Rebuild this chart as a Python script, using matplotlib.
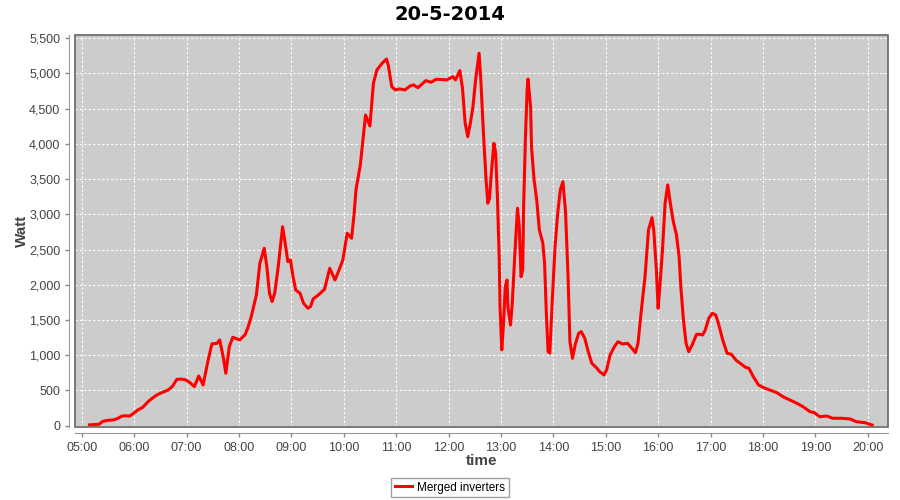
import matplotlib
matplotlib.use("Agg")
import matplotlib.pyplot as plt
from matplotlib.patches import Rectangle

# readings of the merged inverters on 20-5-2014 (HH:MM, watt)
times = [
    "05:09", "05:15", "05:20", "05:24", "05:30", "05:36", "05:41", "05:46", "05:50", "05:55",
    "06:00", "06:04", "06:10", "06:16", "06:21", "06:26", "06:32", "06:39", "06:44", "06:49",
    "06:54", "06:59", "07:04", "07:09", "07:14", "07:19", "07:24", "07:29", "07:35", "07:38",
    "07:42", "07:45", "07:49", "07:53", "08:01", "08:07", "08:10", "08:14", "08:20", "08:24",
    "08:29", "08:32", "08:35", "08:38", "08:41", "08:45", "08:50", "08:53", "08:56", "08:59",
    "09:02", "09:05", "09:10", "09:14", "09:19", "09:22", "09:25", "09:31", "09:38", "09:44",
    "09:50", "09:55", "09:59", "10:04", "10:09", "10:12", "10:14", "10:19", "10:22", "10:25",
    "10:30", "10:34", "10:38", "10:44", "10:49", "10:51", "10:55", "10:59", "11:04", "11:10",
    "11:16", "11:20", "11:25", "11:34", "11:40", "11:46", "11:58", "12:05", "12:08", "12:13",
    "12:16", "12:19", "12:22", "12:25", "12:28", "12:31", "12:35", "12:37", "12:40", "12:43",
    "12:45", "12:47", "12:49", "12:52", "12:54", "12:56", "12:58", "12:59", "13:01", "13:03",
    "13:05", "13:07", "13:08", "13:11", "13:13", "13:16", "13:19", "13:21", "13:23", "13:25",
    "13:26", "13:28", "13:30", "13:31", "13:34", "13:35", "13:38", "13:41", "13:44", "13:48",
    "13:50", "13:52", "13:54", "13:56", "13:59", "14:02", "14:05", "14:08", "14:11", "14:14",
    "14:17", "14:19", "14:22", "14:25", "14:29", "14:32", "14:36", "14:40", "14:44", "14:50",
    "14:53", "14:58", "15:01", "15:05", "15:10", "15:14", "15:19", "15:25", "15:30", "15:34",
    "15:37", "15:40", "15:45", "15:49", "15:53", "15:55", "15:58", "16:00", "16:02", "16:05",
    "16:08", "16:11", "16:14", "16:17", "16:21", "16:24", "16:26", "16:29", "16:32", "16:35",
    "16:39", "16:44", "16:47", "16:51", "16:54", "16:58", "17:02", "17:06", "17:09", "17:14",
    "17:19", "17:24", "17:29", "17:34", "17:40", "17:44", "17:49", "17:55", "18:01", "18:08",
    "18:16", "18:23", "18:31", "18:39", "18:46", "18:54", "18:59", "19:05", "19:13", "19:20",
    "19:30", "19:40", "19:47", "19:57", "20:05",
]
watts = [
    10, 15, 20, 60, 75, 80, 100, 135, 140, 135,
    180, 220, 260, 340, 390, 435, 470, 505, 560, 657,
    660, 650, 610, 553, 705, 577, 885, 1159, 1169, 1216,
    978, 743, 1121, 1254, 1216, 1290, 1380, 1540, 1855, 2305,
    2518, 2256, 1879, 1760, 1879, 2256, 2824, 2589, 2328, 2352,
    2115, 1925, 1879, 1737, 1666, 1690, 1798, 1855, 1935, 2234,
    2068, 2220, 2352, 2730, 2660, 3015, 3345, 3700, 4055, 4410,
    4254, 4860, 5050, 5144, 5205, 5120, 4812, 4766, 4780, 4766,
    4822, 4837, 4798, 4898, 4875, 4918, 4908, 4954, 4908, 5040,
    4790, 4300, 4102, 4292, 4528, 4908, 5287, 4908, 4150, 3488,
    3157, 3228, 3583, 4009, 3867, 3250, 2398, 1688, 1074, 1453,
    1972, 2068, 1688, 1428, 1737, 2447, 3086, 2824, 2115, 2210,
    3108, 4055, 4766, 4920, 4528, 3960, 3488, 3204, 2778, 2589,
    2305, 1595, 1050, 1030, 1830, 2540, 3015, 3345, 3463, 3037,
    2068, 1191, 955, 1145, 1311, 1334, 1240, 1050, 885, 814,
    766, 719, 790, 1003, 1121, 1191, 1159, 1169, 1098, 1035,
    1169, 1546, 2115, 2778, 2952, 2778, 2210, 1666, 1972, 2494,
    3157, 3417, 3157, 2920, 2707, 2398, 1972, 1500, 1169, 1050,
    1145, 1296, 1296, 1287, 1358, 1523, 1595, 1570, 1453, 1216,
    1027, 1012, 931, 885, 828, 814, 694, 577, 538, 505,
    467, 410, 363, 316, 268, 197, 183, 126, 136, 104,
    104, 94, 55, 41, 8,
]
hour_ticks = list(range(5, 21))
watt_ticks = list(range(0, 5501, 500))

hours = [int(t[:2]) + int(t[3:]) / 60 for t in times]

plt.rcParams['font.family'] = ['Liberation Sans', 'DejaVu Sans']

fig = plt.figure(figsize=(9, 5), dpi=100)
ax = fig.add_axes([75 / 900, 73 / 500, 813 / 900, 392 / 500])
ax.set_facecolor('#cccccc')

ax.plot(hours, watts, color='red', lw=2.2, solid_joinstyle='round', label='Merged inverters')

ax.set_xlim(4.872, 20.387)
ax.set_ylim(-20, 5546)
ax.set_xticks(hour_ticks)
ax.set_xticklabels([f'{h:02d}:00' for h in hour_ticks])
ax.set_yticks(watt_ticks)
ax.set_yticklabels([f'{w:,}' for w in watt_ticks])
ax.grid(True, color='white', linestyle=(0, (2, 2)), linewidth=0.8)

for side in ['top', 'right']:
    ax.spines[side].set_visible(False)
for side in ['left', 'bottom']:
    ax.spines[side].set_position(('outward', 4))
    ax.spines[side].set_color('#999999')
ax.tick_params(colors='#888888', labelcolor='#444444', labelsize=9, length=3, width=1)

# plot outline
ax.add_patch(Rectangle((0, 0), 1, 1, transform=ax.transAxes, fill=False,
                       edgecolor='#666666', lw=1.2, clip_on=False, zorder=5))

ax.set_xlabel('time', fontsize=11, fontweight='bold', color='#444444', labelpad=0.5)
ax.set_ylabel('Watt', fontsize=11, fontweight='bold', color='#444444', labelpad=0)

fig.text(0.5, 0.971, '20-5-2014', ha='center', va='center', fontsize=14,
         fontweight='bold', family='DejaVu Sans')

fig.legend(loc='center', bbox_to_anchor=(0.5, 0.025), frameon=True, fancybox=False,
           edgecolor='#888888', fontsize=8.5, handlelength=1.5, handletextpad=0.4,
           borderpad=0.3, borderaxespad=0)

fig.savefig('out.png', dpi=100)
